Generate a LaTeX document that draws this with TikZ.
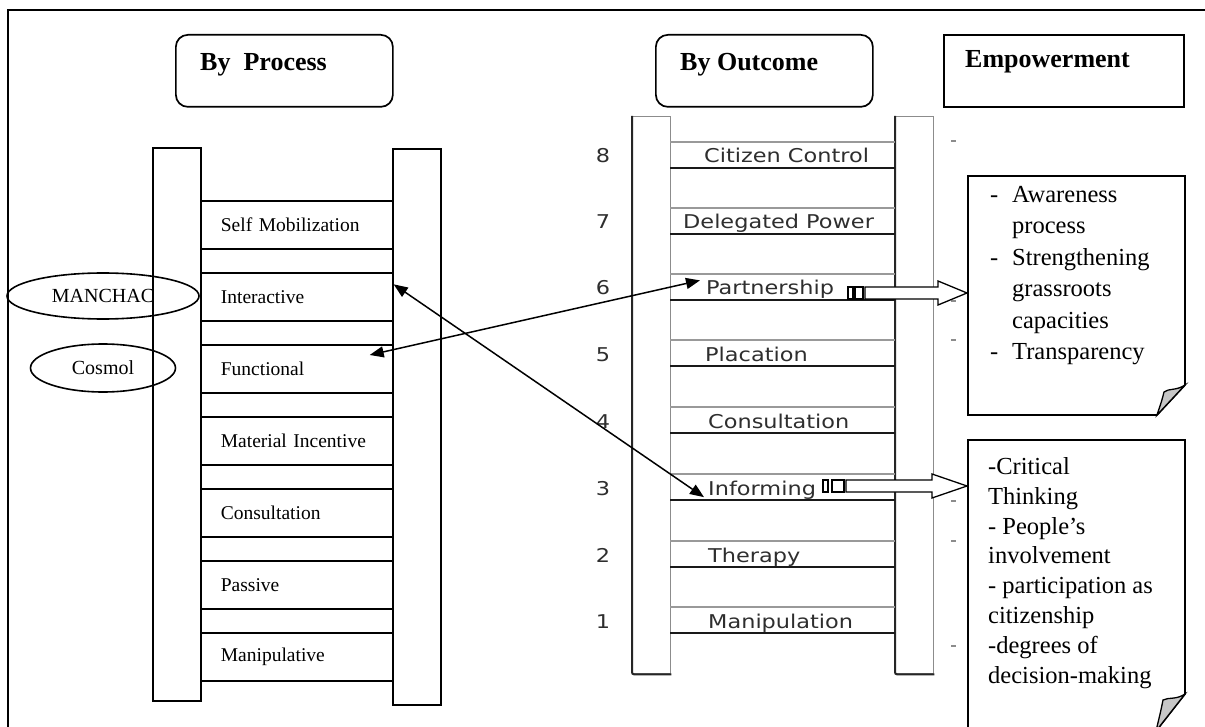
\documentclass[tikz,border=0pt]{standalone}
\usepackage{graphicx}
\usepackage{fontspec}
\setmainfont{Liberation Serif}
\newfontfamily\ladderfont{DejaVu Sans}
\usetikzlibrary{arrows.meta,shapes.geometric}

% hollow block arrow preceded by two small bars
% #1 first bar, #2 second bar, #3 shaft start, #4 head base, #5 axis y, #6 tip x
\newcommand\stripedarrow[6]{%
  \draw[line width=1.3pt, fill=white] (#1,#5-6) rectangle (#1+5,#5+6);
  \draw[line width=1.3pt, fill=white] (#2,#5-6) rectangle (#3-2,#5+6);
  \draw[line width=1.3pt, fill=white, line join=miter]
    (#3,#5-6) -- (#4,#5-6) -- (#4,#5-12) -- (#6,#5) -- (#4,#5+12)
    -- (#4,#5+6) -- (#3,#5+6) -- cycle;
}

\begin{document}
\begin{tikzpicture}[x=1pt,y=-1pt,
  headbox/.style={draw, line width=1.7pt, minimum width=217pt, minimum height=72pt,
    anchor=north west, inner sep=0pt},
  headtext/.style={anchor=base west, inner sep=0pt, font=\fontsize{26}{30}\selectfont\bfseries},
  rail/.style={draw, line width=1.7pt, fill=white, anchor=north west,
    minimum width=48pt, inner sep=0pt},
  stage/.style={draw, fill=white, line width=1.7pt, anchor=north west, minimum height=48pt,
    text width=152pt, inner xsep=20pt, inner ysep=0pt, align=left,
    font=\fontsize{19.5}{22}\selectfont},
  group/.style={draw, ellipse, line width=1.6pt, inner sep=0pt, font=\fontsize{20}{22}\selectfont},
  orail/.style={draw=black!45, line width=1.3pt, fill=white, anchor=north west,
    minimum width=38pt, minimum height=557pt, inner sep=0pt},
  rung/.style={anchor=base west, inner sep=0pt, text=black!82,
    font=\ladderfont\fontsize{19}{22}\selectfont},
  twoway/.style={{Triangle[length=14pt,width=11pt]}-{Triangle[length=14pt,width=11pt]},
    line width=1.5pt},
  note/.style={line width=1.7pt, fill=white, line join=miter},
  fold/.style={line width=1.3pt, fill=black!22},
  notetext/.style={anchor=north west, inner sep=0pt, align=left},
]
\useasboundingbox (0,0) rectangle (1205,727);
\clip (0,0) rectangle (1205,727);

% outer frame
\draw[line width=1.8pt] (8,740) -- (8,10) -- (1215,10);

% column headings
\node[headbox, rounded corners=12pt] (hp) at (175,34) {};
\node[headtext] (hpt) at (200,71) {By~ Process};
\node[headbox, rounded corners=12pt] (ho) at (655,34) {};
\node[headtext] (hot) at (680,71) {By Outcome};
\node[headbox, minimum width=240pt] (he) at (943,34) {};
\node[headtext] (het) at (965,68) {Empowerment};

% ladder of participation by process
\node[rail, minimum height=553pt] (pl) at (152,147) {};
\node[rail, minimum height=556pt] (pr) at (392,148) {};
\foreach \y/\t/\nm in {200/Self Mobilization/s7, 272/Interactive/s6, 344/Functional/s5,
    416/Material Incentive/s4, 488/Consultation/s3, 560/Passive/s2, 632/Manipulative/s1}
  \node[stage] (\nm) at (200,\y) {\t};

\node[group, minimum width=192pt, minimum height=46pt] (manchac) at (103,296) {MANCHAC};
\node[group, minimum width=145pt, minimum height=48pt] (cosmol) at (103,368) {Cosmol};

% ladder of participation by outcome
\node[orail] (ol) at (632,116) {};
\node[orail] (or) at (895,116) {};
\foreach \r in {ol,or}
  \draw[line width=2pt, black!85, rounded corners=2pt]
    (\r.north west) -- (\r.south west) -- (\r.south east);

\foreach \n/\g/\t/\x in {8/142/Citizen Control/704, 7/208/Delegated Power/683,
    6/274/Partnership/706, 5/340/Placation/705, 4/407/Consultation/708,
    3/474/Informing/708, 2/541/Therapy/708, 1/607/Manipulation/708}{
  \draw[black!40, line width=1.4pt] (670,\g) -- (895,\g);
  \draw[black!90, line width=1.8pt] (670,\g+26) -- (895,\g+26);
  \node[rung] (lab\n) at (\x,\g+21) {\scalebox{1.18}[1]{\t}};
  \node[rung, anchor=base] (num\n) at (603,\g+21) {\scalebox{1.18}[1]{\n}};
}

% tick marks beside the outcome ladder
\foreach \y in {141,301,340,501,541,646}
  \draw[black!45, line width=1.2pt] (951,\y) -- (956,\y);

% links between the two ladders
\draw[twoway] ([yshift=12.5pt]s6.east) -- ([xshift=-4pt,yshift=2pt]lab3.south west);
\draw[twoway] ([xshift=-24pt,yshift=-11pt]s5.north east) -- ([xshift=-6pt]lab6.north west);

% block arrows to the empowerment notes
\stripedarrow{848}{855}{865}{938}{293}{967}
\stripedarrow{823}{832}{846}{932}{486}{967}

% empowerment notes
\draw[note] (968,176) -- (1185,176) -- (1185,385) -- (1157,415) -- (968,415) -- cycle;
\draw[fold] (1185,385) .. controls (1176,391) and (1169,388) .. (1164,392)
  .. controls (1162,400) .. (1157,415) -- cycle;
\node[notetext, font=\fontsize{24.5}{31.5}\selectfont] (note1) at (990,186)
  {\makebox[22pt][l]{-}Awareness\\
   \hspace*{22pt}process\\
   \makebox[22pt][l]{-}Strengthening\\
   \hspace*{22pt}grassroots\\
   \hspace*{22pt}capacities\\
   \makebox[22pt][l]{-}Transparency};

\draw[note] (968,440) -- (1185,440) -- (1185,694) -- (1156,731) -- (968,731) -- cycle;
\draw[fold] (1185,694) .. controls (1176,700) and (1169,697) .. (1163,700)
  .. controls (1161,710) .. (1156,731) -- cycle;
\node[notetext, font=\fontsize{24.5}{29.9}\selectfont] (note2) at (988,457)
  {-Critical\\
   Thinking\\
   - People’s\\
   involvement\\
   - participation as\\
   citizenship\\
   -degrees of\\
   decision-making};
\end{tikzpicture}
\end{document}
